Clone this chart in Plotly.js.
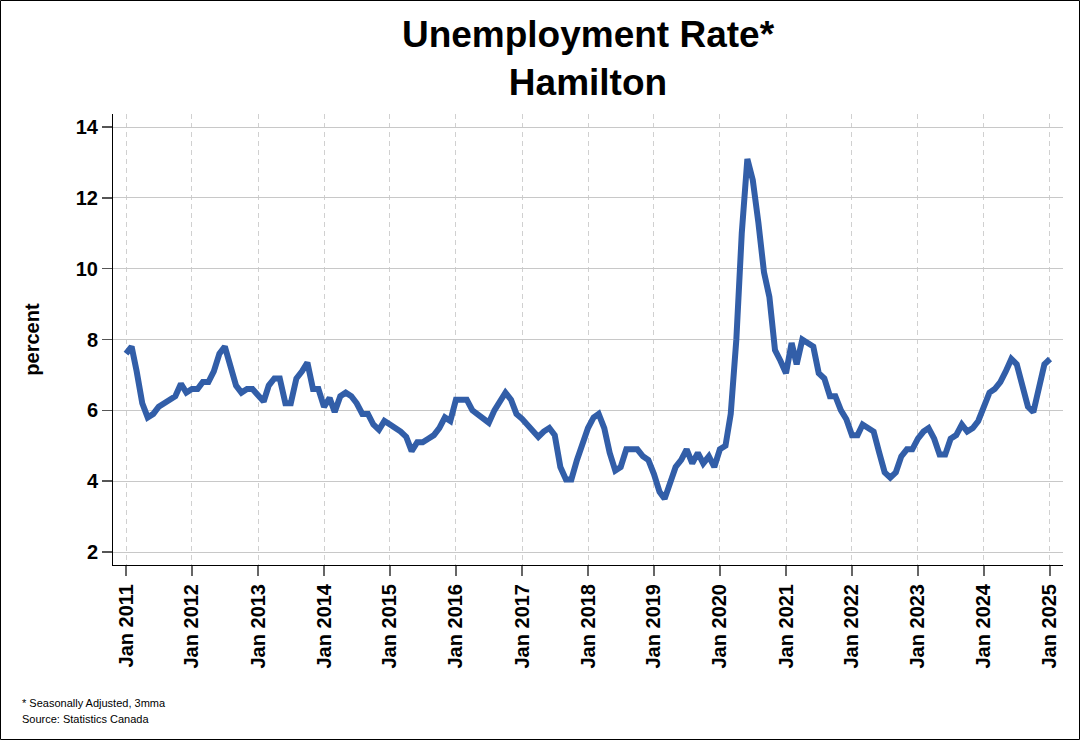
<!DOCTYPE html>
<html>
<head>
<meta charset="utf-8">
<script src="https://cdn.plot.ly/plotly-3.0.1.min.js"></script>
<style>
  html, body { margin: 0; padding: 0; background: #fff; }
  #chart { width: 1080px; height: 740px; }
</style>
</head>
<body>
<div id="chart"></div>
<script>
// Monthly unemployment rate (%), Hamilton, seasonally adjusted 3mma
const startYear = 2011;
const y2011 = [7.6, 7.8, 7.1, 6.2, 5.8, 5.9, 6.1, 6.2, 6.3, 6.4, 6.75, 6.5];
const y2012 = [6.6, 6.6, 6.8, 6.8, 7.1, 7.6, 7.8, 7.3, 6.7, 6.5, 6.6, 6.6];
const y2013 = [6.4, 6.25, 6.7, 6.9, 6.9, 6.2, 6.2, 6.9, 7.1, 7.35, 6.6, 6.6];
const y2014 = [6.1, 6.35, 5.95, 6.4, 6.5, 6.4, 6.2, 5.9, 5.9, 5.6, 5.45, 5.7];
const y2015 = [5.6, 5.5, 5.4, 5.25, 4.85, 5.1, 5.1, 5.2, 5.3, 5.5, 5.8, 5.7];
const y2016 = [6.3, 6.3, 6.3, 6.0, 5.9, 5.75, 5.65, 6.0, 6.3, 6.5, 6.3, 5.9];
const y2017 = [5.76, 5.6, 5.45, 5.25, 5.4, 5.5, 5.3, 4.4, 4.05, 4.05, 4.6, 5.1];
const y2018 = [5.5, 5.8, 5.9, 5.5, 4.8, 4.3, 4.4, 4.9, 4.9, 4.9, 4.7, 4.6];
const y2019 = [4.2, 3.7, 3.5, 3.9, 4.4, 4.6, 4.9, 4.5, 4.8, 4.5, 4.7, 4.4];
const y2020 = [4.9, 5.0, 5.9, 8.0, 11.0, 13.1, 12.5, 11.3, 9.9, 9.2, 7.7, 7.4];
const y2021 = [7.05, 7.9, 7.3, 8.0, 7.9, 7.8, 7.05, 6.9, 6.4, 6.4, 6.0, 5.75];
const y2022 = [5.3, 5.3, 5.6, 5.5, 5.4, 4.8, 4.25, 4.1, 4.25, 4.7, 4.9, 4.9];
const y2023 = [5.2, 5.4, 5.5, 5.2, 4.75, 4.75, 5.2, 5.3, 5.6, 5.4, 5.5, 5.7];
const y2024 = [6.1, 6.5, 6.6, 6.8, 7.1, 7.45, 7.3, 6.7, 6.1, 5.95, 6.65, 7.3];
const y2025 = [7.45];

const tickYears = [2011, 2012, 2013, 2014, 2015, 2016, 2017, 2018, 2019, 2020, 2021, 2022, 2023, 2024, 2025];
const tickText = tickYears.map(y => 'Jan ' + y);
const yTicks = [2, 4, 6, 8, 10, 12, 14];

const rates = [].concat(y2011, y2012, y2013, y2014, y2015, y2016, y2017, y2018,
                        y2019, y2020, y2021, y2022, y2023, y2024, y2025);
const months = rates.map((_, i) => {
  const yr = startYear + Math.floor(i / 12);
  const m = (i % 12) + 1;
  return yr + '-' + String(m).padStart(2, '0') + '-01';
});
const tickVals = tickYears.map(y => y + '-01-01');

const FONT = 'Liberation Sans, Arial, Helvetica, sans-serif';

const trace = {
  x: months,
  y: rates,
  type: 'scatter',
  mode: 'lines',
  line: { color: '#325ea8', width: 6 },
  hoverinfo: 'x+y'
};

const layout = {
  width: 1080,
  height: 740,
  paper_bgcolor: '#ffffff',
  plot_bgcolor: '#ffffff',
  margin: { l: 113, r: 17, t: 114, b: 175 },
  showlegend: false,
  font: { family: FONT, color: '#000' },
  title: {
    text: '<b>Unemployment Rate*</b><br><b>Hamilton</b>',
    font: { family: FONT, size: 37, color: '#000' },
    x: 0.5, xref: 'paper', xanchor: 'center',
    y: 0.936, yref: 'container', yanchor: 'top'
  },
  xaxis: {
    type: 'date',
    range: ['2010-10-21', '2025-03-14'],
    tickmode: 'array',
    tickvals: tickVals,
    ticktext: tickText,
    tickangle: -90,
    tickfont: { family: FONT, size: 20, color: '#000', weight: 'bold' },
    ticks: 'outside',
    ticklen: 10,
    tickwidth: 2,
    tickcolor: '#666',
    showline: true,
    linecolor: '#000',
    linewidth: 1,
    showgrid: true,
    gridcolor: '#d0d0d0',
    gridwidth: 1,
    griddash: '5px,4px',
    zeroline: false,
    fixedrange: true
  },
  yaxis: {
    range: [1.633, 14.367],
    tickmode: 'array',
    tickvals: yTicks,
    ticktext: yTicks.map(String),
    tickfont: { family: FONT, size: 20, color: '#000', weight: 'bold' },
    ticks: 'outside',
    ticklen: 10,
    tickwidth: 1.5,
    tickcolor: '#555',
    showline: true,
    linecolor: '#000',
    linewidth: 1,
    showgrid: true,
    gridcolor: '#c8c8c8',
    gridwidth: 1,
    zeroline: false,
    title: {
      text: '<b>percent</b>',
      font: { family: FONT, size: 20, color: '#000' },
      standoff: 30
    },
    fixedrange: true
  },
  shapes: [{
    type: 'rect', xref: 'paper', yref: 'paper',
    x0: (0.5 - 113) / 950, x1: (1079.5 - 113) / 950,
    y0: (565 - 739.5) / 451, y1: (565 - 0.5) / 451,
    line: { color: '#000', width: 1 },
    fillcolor: 'rgba(0,0,0,0)',
    layer: 'above'
  }],
  annotations: [
    {
      text: '* Seasonally Adjusted, 3mma',
      xref: 'paper', yref: 'paper',
      x: (20 - 113) / 950, y: (565 - 703) / 451,
      xanchor: 'left', yanchor: 'middle', showarrow: false,
      font: { family: FONT, size: 11, color: '#000' }
    },
    {
      text: 'Source: Statistics Canada',
      xref: 'paper', yref: 'paper',
      x: (20 - 113) / 950, y: (565 - 719) / 451,
      xanchor: 'left', yanchor: 'middle', showarrow: false,
      font: { family: FONT, size: 11, color: '#000' }
    }
  ]
};

Plotly.newPlot('chart', [trace], layout, { displayModeBar: false, staticPlot: true });
</script>
</body>
</html>
